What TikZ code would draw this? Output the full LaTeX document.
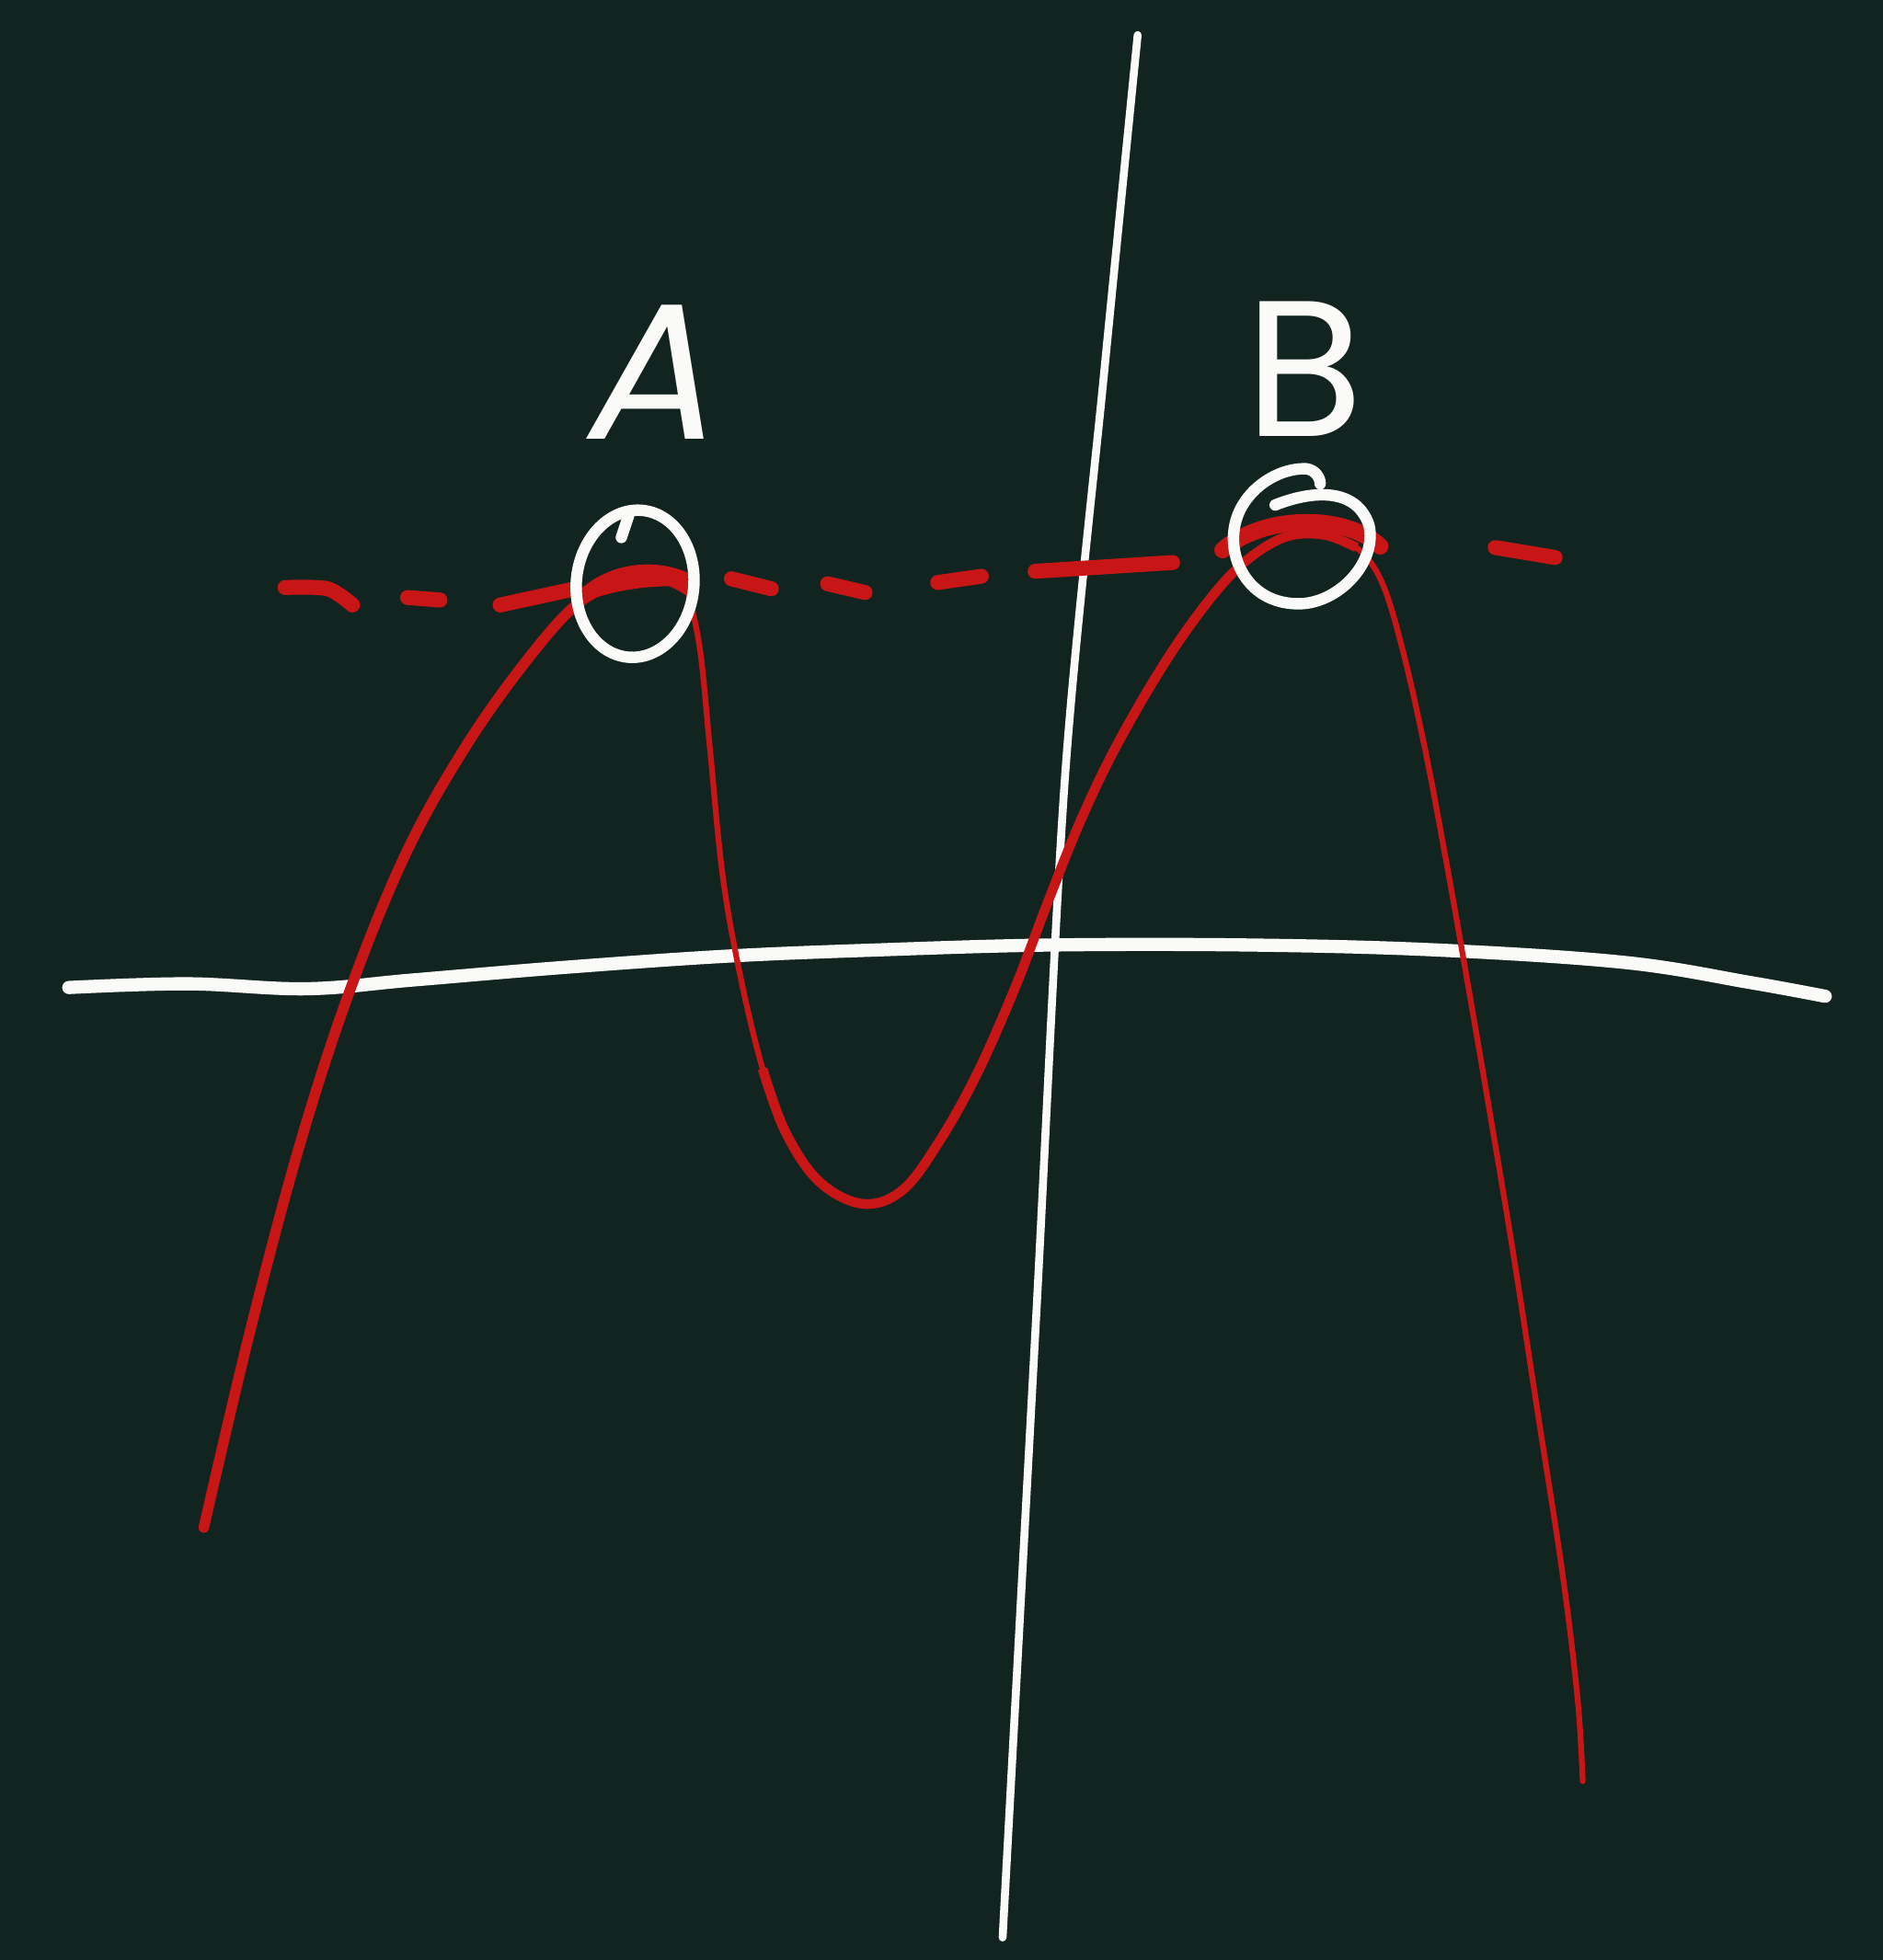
\documentclass[tikz,border=0pt]{standalone}
\usepackage{fontspec}
\newfontfamily\handfont{Poppins}
\definecolor{board}{RGB}{18,36,31}
\definecolor{chalkred}{RGB}{200,22,22}
\definecolor{chalk}{RGB}{250,250,248}
\begin{document}
\begin{tikzpicture}[x=0.01cm,y=-0.01cm,
  axis/.style={draw=chalk,line cap=round,line join=round},
  curvethick/.style={draw=chalkred,line width=2.4pt,line cap=round,line join=round},
  curvethin/.style={draw=chalkred,line width=1.3pt,line cap=round,line join=round},
  dashpiece/.style={draw=chalkred,line width=3.4pt,line cap=round,line join=round},
  ring/.style={draw=chalk,line width=2.6pt,line cap=round,line join=round},
  lbl/.style={text=chalk,font=\handfont\fontsize{44}{44}\selectfont,inner sep=0pt}]
\fill[board] (0,0) rectangle (1506,1568);
\useasboundingbox (0,0) rectangle (1506,1568);
% vertical axis
\draw[axis,line width=1.8pt] plot[smooth] coordinates {(910,28) (883,300) (852,620) (829,1050) (802,1550)};
% horizontal axis
\draw[axis,line width=3pt] plot[smooth,tension=0.6] coordinates {(55,790) (150,787) (245,791) (330,784) (450,774) (580,765) (700,760) (840,756) (1000,756) (1150,760) (1300,770) (1400,786) (1460,797)};
% red curve
\draw[curvethick] plot[smooth,tension=0.6] coordinates {(163,1222) (200,1065) (240,915) (280,792) (325,682) (372,598) (420,530) (462,483) (500,465) (530,463) (550,472)};
\draw[curvethin] plot[smooth,tension=0.6] coordinates {(550,472) (560,520) (568,600) (578,700) (592,780) (610,855) (628,905) (655,945) (690,963) (722,952) (752,912) (782,858) (812,790) (838,722) (865,655) (895,593) (935,525) (972,474) (1000,446) (1030,429) (1060,428) (1085,438) (1105,465) (1122,520) (1140,600) (1157,690) (1172,775) (1190,880) (1210,1000) (1230,1130) (1250,1260) (1262,1360) (1266,1425)};
\draw[curvethick,line width=2.2pt,line cap=butt] plot[smooth,tension=0.6] coordinates {(610,855) (628,905) (655,945) (690,963) (722,952) (752,912) (782,858) (812,790) (838,722) (865,655) (895,593) (935,525) (972,474) (1000,446) (1030,429) (1060,428) (1085,438)};
% dashed horizontal line
\draw[dashpiece] plot[smooth] coordinates {(228,470) (262,471) (282,484)};
\draw[dashpiece] (326,478) -- (352,480);
\draw[dashpiece] (400,484) -- (460,471);
\fill[chalkred] (458,478) .. controls (482,450) and (525,444) .. (556,461) -- (556,469) .. controls (525,468) and (490,470) .. (460,485) -- cycle;
\draw[dashpiece] (585,463) -- (617,471);
\draw[dashpiece] (662,467) -- (692,474);
\draw[dashpiece] (750,466) -- (785,461);
\draw[dashpiece] (828,457) -- (938,450);
\draw[dashpiece,line width=3.8pt] (978,440) .. controls (1010,412) and (1075,410) .. (1104,437);
\draw[dashpiece] (1196,438) -- (1244,446);
% circle at A
\draw[ring,rotate around={-6:(508,467)}] (508,467) ellipse (47 and 59);
\draw[ring] (497,430) -- (503,412);
% circle at B
\draw[ring] (1020,404) .. controls (1050,392) and (1085,390) .. (1095,420) .. controls (1102,450) and (1070,484) .. (1037,483) .. controls (1000,482) and (984,450) .. (987,425) .. controls (990,395) and (1020,374) .. (1045,375) .. controls (1052,376) and (1056,382) .. (1056,387);
% labels
\node[lbl,xslant=0.2,transform shape] (labA) at (527,298) {A};
\node[lbl] (labB) at (1043,295) {B};
\end{tikzpicture}
\end{document}
